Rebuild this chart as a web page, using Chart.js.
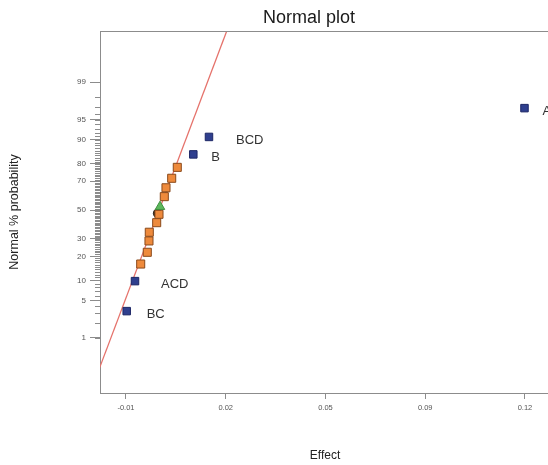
<!DOCTYPE html>
<html>
<head>
<meta charset="utf-8">
<title>Normal plot</title>
<script src="https://cdn.jsdelivr.net/npm/chart.js@4.4.1/dist/chart.umd.min.js"></script>
<style>
  html, body { margin: 0; padding: 0; background: #fff; overflow: hidden; }
  #wrap { width: 618px; height: 465px; }
</style>
</head>
<body>
<div id="wrap"><canvas id="normalPlot" width="618" height="465"></canvas></div>
<script>
// effects and their normal % probability
const namedEffects = ['BC', 'ACD', 'B', 'BCD', 'A'];
const namedX = [-0.00977, -0.00707, 0.01193, 0.01704, 0.11984];
const namedP = [3.3, 9.8, 84.4, 90.8, 96.8];

const otherX = [-0.00521, -0.00306, -0.00251, -0.00241, 0.0, 0.00075, 0.00248, 0.00303, 0.00489, 0.00671];
const otherP = [16.3, 22.1, 28.7, 34.3, 40.9, 46.9, 59.6, 65.7, 71.8, 78.1];

const circleX = [0.0002];
const circleP = [47.6];
const triangleX = [0.00108];
const triangleP = [52.4];

// fitted normal line, two far points (clipped by the plot area)
const lineX = [-0.02435, 0.02597];
const lineP = [0.01, 99.99];

const yTicks = [1, 5, 10, 20, 30, 50, 70, 80, 90, 95, 99];
const xTicks = [-0.01, 0.0225, 0.055, 0.0875, 0.12];
const xTickLabels = ['-0.01', '0.02', '0.05', '0.09', '0.12'];

// inverse normal cdf (Acklam)
function probit(p) {
    const a = [-3.969683028665376e+01, 2.209460984245205e+02, -2.759285104469687e+02, 1.383577518672690e+02, -3.066479806614716e+01, 2.506628277459239e+00];
    const b = [-5.447609879822406e+01, 1.615858368580409e+02, -1.556989798598866e+02, 6.680131188771972e+01, -1.328068155288572e+01];
    const c = [-7.784894002430293e-03, -3.223964580411365e-01, -2.400758277161838e+00, -2.549732539343734e+00, 4.374664141464968e+00, 2.938163982698783e+00];
    const d = [7.784695709041462e-03, 3.224671290700398e-01, 2.445134137142996e+00, 3.754408661907416e+00];
    const pl = 0.02425;
    let q, r;
    if (p < pl) {
        q = Math.sqrt(-2 * Math.log(p));
        return (((((c[0] * q + c[1]) * q + c[2]) * q + c[3]) * q + c[4]) * q + c[5]) / ((((d[0] * q + d[1]) * q + d[2]) * q + d[3]) * q + 1);
    }
    if (p > 1 - pl) {
        q = Math.sqrt(-2 * Math.log(1 - p));
        return -(((((c[0] * q + c[1]) * q + c[2]) * q + c[3]) * q + c[4]) * q + c[5]) / ((((d[0] * q + d[1]) * q + d[2]) * q + d[3]) * q + 1);
    }
    q = p - 0.5;
    r = q * q;
    return (((((a[0] * r + a[1]) * r + a[2]) * r + a[3]) * r + a[4]) * r + a[5]) * q / (((((b[0] * r + b[1]) * r + b[2]) * r + b[3]) * r + b[4]) * r + 1);
}

const toPoints = (xs, ps) => xs.map((x, i) => ({ x: x, y: probit(ps[i] / 100) }));

const FONT = "'Liberation Sans', Arial, sans-serif";
const AXIS_GREY = '#8c8c8c';

// top frame line, minor probability ticks and effect labels
const extras = {
    id: 'extras',
    afterDatasetsDraw(chart, args, opts) {
        const ctx = chart.ctx;
        const area = chart.chartArea;
        const yScale = chart.scales.y;
        ctx.save();
        ctx.strokeStyle = AXIS_GREY;
        ctx.lineWidth = 1;
        ctx.beginPath();
        ctx.moveTo(area.left, area.top + 0.5);
        ctx.lineTo(area.right, area.top + 0.5);
        for (let p = 1; p <= 99; p++) {
            const y = Math.round(yScale.getPixelForValue(probit(p / 100))) + 0.5;
            ctx.moveTo(area.left - 5, y);
            ctx.lineTo(area.left, y);
        }
        ctx.stroke();

        const meta = chart.getDatasetMeta(0);
        ctx.fillStyle = '#333';
        ctx.font = '13px ' + FONT;
        ctx.textBaseline = 'middle';
        meta.data.forEach((pt, i) => {
            const name = namedEffects[i];
            ctx.fillText(name, pt.x + (opts.dx[name] || 20), pt.y + 3);
        });
        ctx.restore();
    }
};

new Chart(document.getElementById('normalPlot'), {
    type: 'scatter',
    data: {
        datasets: [
            {
                data: toPoints(namedX, namedP),
                pointStyle: 'rect',
                pointRadius: 5.3,
                backgroundColor: '#2f3f8e',
                borderColor: '#1d2766',
                borderWidth: 1,
                order: 1
            },
            {
                data: toPoints(triangleX, triangleP),
                pointStyle: 'triangle',
                pointRadius: 5.5,
                backgroundColor: '#5cb85c',
                borderColor: '#3f8f3f',
                borderWidth: 1,
                order: 2
            },
            {
                data: toPoints(otherX, otherP),
                pointStyle: 'rect',
                pointRadius: 5.7,
                backgroundColor: '#ee8a3c',
                borderColor: '#8a4a1c',
                borderWidth: 1,
                order: 3
            },
            {
                data: toPoints(circleX, circleP),
                pointStyle: 'circle',
                pointRadius: 4,
                backgroundColor: '#2a2218',
                borderColor: '#2a2218',
                borderWidth: 1,
                order: 4
            },
            {
                data: toPoints(lineX, lineP),
                showLine: true,
                pointRadius: 0,
                borderColor: '#e5726b',
                borderWidth: 1.3,
                order: 5
            }
        ]
    },
    options: {
        responsive: false,
        animation: false,
        layout: { padding: 0 },
        plugins: {
            legend: { display: false },
            tooltip: { enabled: false },
            title: {
                display: true,
                text: 'Normal plot',
                color: '#1a1a1a',
                font: { family: FONT, size: 18, weight: 'normal' },
                padding: { top: 7, bottom: 2.4 }
            },
            extras: { dx: { BCD: 27, B: 18, ACD: 26, BC: 20, A: 18 } }
        },
        scales: {
            x: {
                type: 'linear',
                min: -0.01847,
                max: 0.12815,
                afterBuildTicks: scale => { scale.ticks = xTicks.map(v => ({ value: v })); },
                afterFit: scale => { scale.height = 72; },
                ticks: {
                    autoSkip: false,
                    maxRotation: 0,
                    padding: 4,
                    color: '#555',
                    font: { family: FONT, size: 7.5 },
                    callback: (v, i) => xTickLabels[i]
                },
                grid: { drawOnChartArea: false, drawTicks: true, tickLength: 6, tickColor: AXIS_GREY },
                border: { display: true, color: AXIS_GREY, width: 1 },
                title: {
                    display: true,
                    text: 'Effect',
                    color: '#222',
                    font: { family: FONT, size: 12 },
                    padding: { top: 0, bottom: 2 }
                }
            },
            y: {
                type: 'linear',
                min: -3.327,
                max: 3.2545,
                afterBuildTicks: scale => { scale.ticks = yTicks.map(p => ({ value: probit(p / 100) })); },
                afterFit: scale => { scale.width = 100; },
                ticks: {
                    autoSkip: false,
                    padding: 4,
                    color: '#555',
                    font: { family: FONT, size: 8 },
                    callback: (v, i) => String(yTicks[i])
                },
                grid: { drawOnChartArea: false, drawTicks: true, tickLength: 10, tickColor: AXIS_GREY },
                border: { display: true, color: AXIS_GREY, width: 1 },
                title: {
                    display: true,
                    text: 'Normal % probability',
                    color: '#222',
                    font: { family: FONT, size: 12.5 },
                    padding: { top: 7, bottom: 0 }
                }
            },
            // blank strip on the right, the plot runs past the visible window
            yRight: {
                type: 'linear',
                position: 'right',
                min: 0,
                max: 1,
                afterFit: scale => { scale.width = 68; },
                ticks: { display: false },
                grid: { display: false },
                border: { display: false }
            }
        }
    },
    plugins: [extras]
});
</script>
</body>
</html>
